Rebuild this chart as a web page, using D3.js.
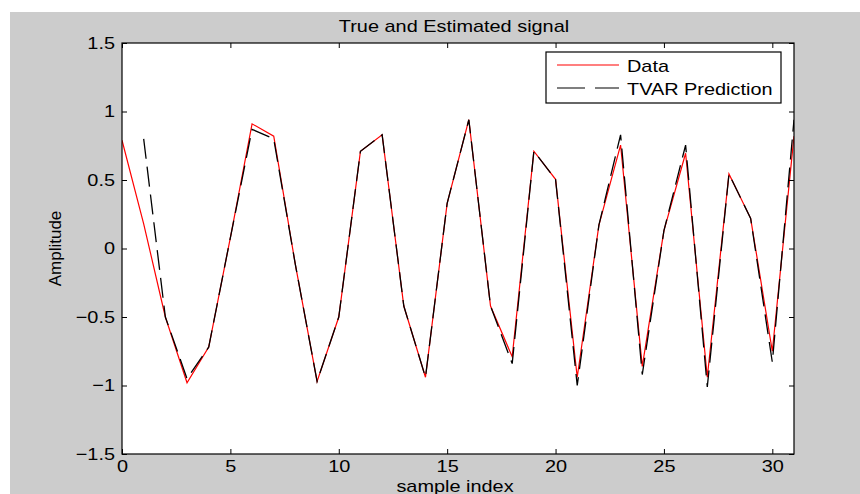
<!DOCTYPE html>
<html>
<head>
<meta charset="utf-8">
<script src="https://cdn.jsdelivr.net/npm/d3@7"></script>
<style>
  body { margin: 0; background: #fff; }
  text { font-family: "Liberation Sans", Arial, sans-serif; font-size: 17px; fill: #000; }
</style>
</head>
<body>
<div class="chart"></div>
<script>
const width = 860;
const height = 494;

// sample index 0..31
const sampleIndex = [0,1,2,3,4,5,6,7,8,9,10,11,12,13,14,15,16,17,18,19,20,21,22,23,24,25,26,27,28,29,30,31];
// true signal (red)
const trueSignal = [0.79, 0.18, -0.50, -0.98, -0.72, 0.08, 0.91, 0.82, -0.12, -0.97, -0.50, 0.71, 0.83, -0.42, -0.94, 0.33,
                    0.94, -0.42, -0.79, 0.71, 0.505, -0.94, 0.17, 0.755, -0.86, 0.13, 0.695, -0.94, 0.544, 0.22, -0.75, 0.82];
// TVAR prediction starts at sample 1
const predIndex = sampleIndex.slice(1);
const tvarPrediction = [0.80, -0.50, -0.95, -0.72, 0.08, 0.87, 0.80, -0.12, -0.97, -0.50, 0.71, 0.83, -0.42, -0.94, 0.33,
                        0.94, -0.42, -0.84, 0.71, 0.505, -1.0, 0.17, 0.83, -0.92, 0.13, 0.755, -1.01, 0.544, 0.22, -0.83, 0.94];

const xTicks = [0, 5, 10, 15, 20, 25, 30];
const yTicks = [-1.5, -1, -0.5, 0, 0.5, 1, 1.5];

const margin = {left: 122, top: 43, right: 860 - 794, bottom: 494 - 454};
const stretch = 1.17;   // the picture is a bit wider than tall

const svg = d3.select(".chart")
    .append("svg")
    .attr("width", width)
    .attr("height", height);

// figure background
svg.append("rect")
    .attr("x", 10).attr("y", 12)
    .attr("width", width - 10).attr("height", height - 12)
    .attr("fill", "#cccccc");

const x = d3.scaleLinear().domain([0, 31]).range([margin.left, width - margin.right]);
const y = d3.scaleLinear().domain([-1.5, 1.5]).range([height - margin.bottom, margin.top]);

svg.append("rect")
    .attr("x", x(0)).attr("y", y(1.5))
    .attr("width", x(31) - x(0)).attr("height", y(-1.5) - y(1.5))
    .attr("fill", "#fff");

svg.append("clipPath").attr("id", "clip")
    .append("rect")
    .attr("x", x(0)).attr("y", y(1.5))
    .attr("width", x(31) - x(0)).attr("height", y(-1.5) - y(1.5));

const line = d3.line().x(d => x(d[0])).y(d => y(d[1]));

const plot = svg.append("g").attr("clip-path", "url(#clip)");

plot.append("path")
    .datum(d3.zip(sampleIndex, trueSignal))
    .attr("fill", "none")
    .attr("stroke", "#ff0000")
    .attr("stroke-width", 1.2)
    .attr("d", line);

plot.append("path")
    .datum(d3.zip(predIndex, tvarPrediction))
    .attr("fill", "none")
    .attr("stroke", "#000")
    .attr("stroke-width", 1.3)
    .attr("stroke-dasharray", "20,8")
    .attr("d", line);

// axes, ticks inward on all four sides
const tickLen = 5;
const axisBottom = d3.axisBottom(x).tickValues(xTicks).tickSize(-tickLen).tickPadding(6).tickFormat(d3.format("d"));
const axisTop = d3.axisTop(x).tickValues(xTicks).tickSize(-tickLen).tickFormat("");
const axisLeft = d3.axisLeft(y).tickValues(yTicks).tickSize(-tickLen).tickPadding(7).tickFormat(d => d3.format("")(d));
const axisRight = d3.axisRight(y).tickValues(yTicks).tickSize(-tickLen).tickFormat("");

function styleAxis(g) {
    g.select(".domain").remove();
    g.selectAll(".tick line").attr("stroke", "#000");
    g.selectAll("text").attr("font-size", null).attr("font-family", null);
}

svg.append("g").attr("transform", `translate(0,${y(-1.5)})`).call(axisBottom).call(styleAxis);
svg.append("g").attr("transform", `translate(0,${y(1.5)})`).call(axisTop).call(styleAxis);
svg.append("g").attr("transform", `translate(${x(0)},0)`).call(axisLeft).call(styleAxis);
svg.append("g").attr("transform", `translate(${x(31)},0)`).call(axisRight).call(styleAxis);

svg.append("rect")
    .attr("x", x(0)).attr("y", y(1.5))
    .attr("width", x(31) - x(0)).attr("height", y(-1.5) - y(1.5))
    .attr("fill", "none")
    .attr("stroke", "#000")
    .attr("stroke-width", 1.2);

// title and labels
svg.append("text")
    .attr("class", "wide")
    .attr("x", 454).attr("y", 32)
    .attr("text-anchor", "middle")
    .text("True and Estimated signal");

svg.append("text")
    .attr("class", "wide")
    .attr("x", 455).attr("y", 492)
    .attr("text-anchor", "middle")
    .text("sample index");

svg.append("text")
    .attr("transform", `translate(61,${y(0)}) rotate(-90)`)
    .attr("text-anchor", "middle")
    .attr("font-size", "15.5px")
    .text("Amplitude");

// legend
const legend = svg.append("g");
legend.append("rect")
    .attr("x", 546).attr("y", 52)
    .attr("width", 235).attr("height", 51)
    .attr("fill", "#fff")
    .attr("stroke", "#000")
    .attr("stroke-width", 1.2);

const legendItems = [
    {name: "Data", color: "#ff0000", dash: null},
    {name: "TVAR Prediction", color: "#000", dash: "28,10"}
];

legendItems.forEach((item, i) => {
    const ly = 65 + i * 23;
    legend.append("line")
        .attr("x1", 557).attr("x2", 619)
        .attr("y1", ly).attr("y2", ly)
        .attr("stroke", item.color)
        .attr("stroke-width", 1.2)
        .attr("stroke-dasharray", item.dash);
    legend.append("text")
        .attr("class", "wide")
        .attr("x", 627).attr("y", ly + 6.5)
        .text(item.name);
});

// widen all horizontal text a little to match the stretched original
svg.selectAll(".tick text, text.wide").each(function() {
    const len = this.getComputedTextLength();
    if (len > 0) {
        d3.select(this)
            .attr("textLength", len * stretch)
            .attr("lengthAdjust", "spacingAndGlyphs");
    }
});
</script>
</body>
</html>
